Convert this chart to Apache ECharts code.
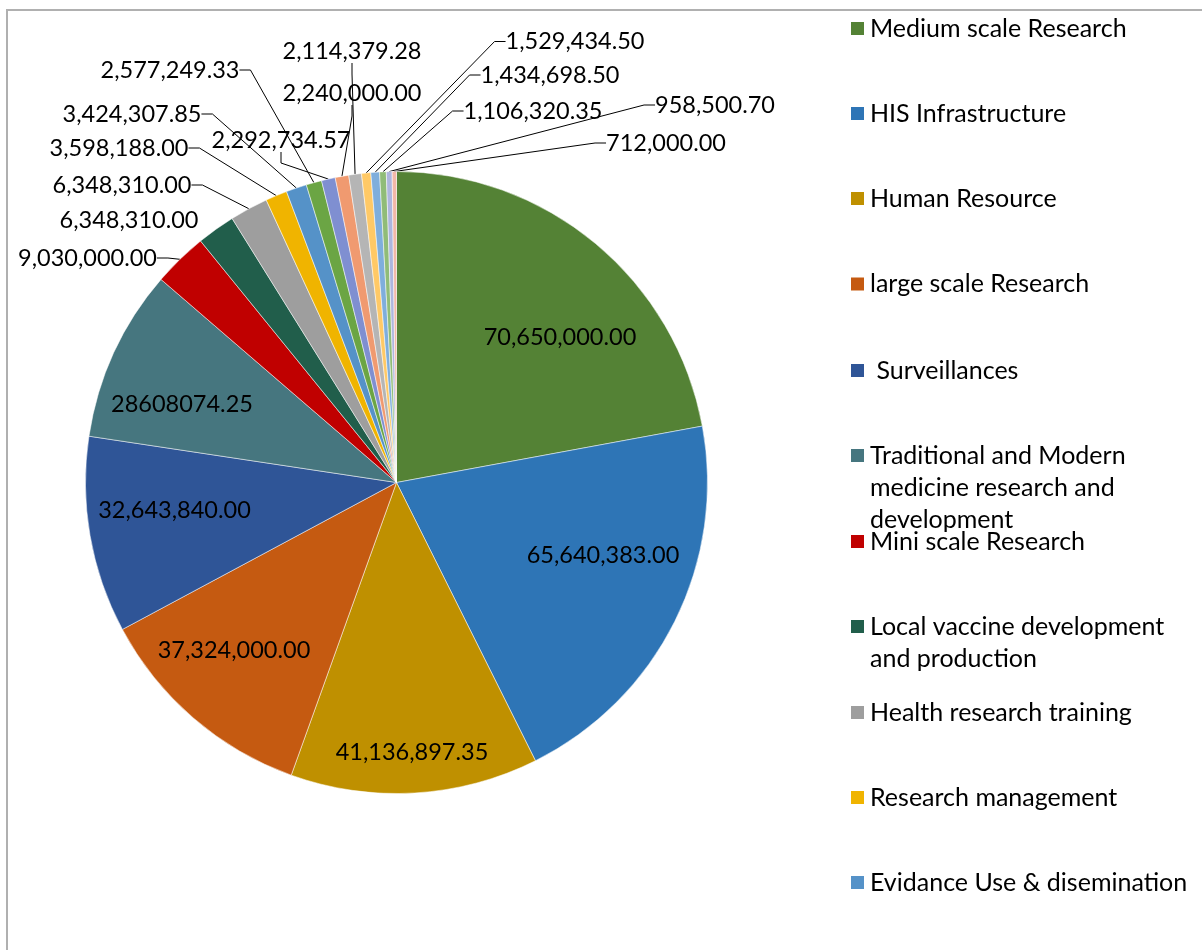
<!DOCTYPE html>
<html><head><meta charset="utf-8">
<script src="https://cdn.jsdelivr.net/npm/echarts@6/dist/echarts.min.js"></script>
<style>
html,body{margin:0;padding:0;background:#fff;overflow:hidden}
#frame{position:absolute;left:6px;top:9px;width:1400px;height:1200px;border-left:2px solid #B0B0B0;border-top:2px solid #B0B0B0;}
#chart{position:absolute;left:0;top:0;width:1202px;height:950px;}
</style></head><body>
<div id="frame"></div><div id="chart"></div>
<script>
// ---- data ----
const categories = [
  'Medium scale Research', 'HIS Infrastructure', 'Human Resource', 'large scale Research',
  ' Surveillances', 'Traditional and Modern medicine research and development',
  'Mini scale Research', 'Local vaccine development and production', 'Health research training',
  'Research management', 'Evidance Use & disemination',
  'Item 12', 'Item 13', 'Item 14', 'Item 15', 'Item 16', 'Item 17', 'Item 18', 'Item 19', 'Item 20'
];
const values = [
  70650000.00, 65640383.00, 41136897.35, 37324000.00, 32643840.00, 28608074.25,
  9030000.00, 6348310.00, 6348310.00, 3598188.00, 3424307.85,
  2577249.33, 2292734.57, 2240000.00, 2114379.28, 1529434.50, 1434698.50,
  1106320.35, 958500.70, 712000.00
];
// the label of item 6 is shown without thousands separators in the source
const groupedLabel = [true, true, true, true, true, false, true, true, true, true, true,
  true, true, true, true, true, true, true, true, true];
const legendNames = categories.slice(0, 11);
const legendWrapped = {
  'Traditional and Modern medicine research and development': ['Traditional and Modern', 'medicine research and', 'development'],
  'Local vaccine development and production': ['Local vaccine development', 'and production']
};
const colors = [
  '#548235', '#2E75B6', '#BF9000', '#C55A11', '#2F5597', '#46767F',
  '#C00000', '#215E4B', '#9E9E9E', '#F0B400', '#5592C8',
  '#6BA544', '#7F8FD1', '#F09A70', '#B5B5B5', '#FFC966', '#7FAEDC',
  '#90BC78', '#AEB6DE', '#F2B8A8'
];

// ---- layout (positions only) ----
const labelPos = [
  [560, 337], [603, 555], [412, 752], [234, 650], [174.5, 510], [182, 404],
  [87.5, 258], [129, 220], [122, 185], [119, 148], [132, 114],
  [170, 70], [281, 140], [352, 93], [352, 51], [575, 41.5], [550, 75],
  [533, 111], [715, 105], [666, 143]
];
const legendCenters = [28.5, 113.5, 198.5, 284, 370.5, 455.5, 541.5, 626.5, 712.5, 797.5, 882.5];
const FONT = 'Lato';
const LINE_H = 32;

function fmt(v, grouped) {
  return v.toLocaleString('en-US', {minimumFractionDigits: 2, maximumFractionDigits: 2, useGrouping: grouped});
}

const pieData = values.map((v, i) => {
  const inside = i < 6;
  return {
    name: categories[i],
    value: v,
    itemStyle: {color: colors[i]},
    label: {position: inside ? 'inside' : 'outside'},
    labelLine: {show: !inside && i !== 7}
  };
});

// multi-line legend entries: blank lines are prepended so the first line sits beside the marker
function legendText(name) {
  const lines = legendWrapped[name];
  if (!lines) return name;
  return new Array(lines.length - 1).fill('').concat(lines).join('\n');
}

const legends = legendNames.map((name, i) => {
  const lines = legendWrapped[name] ? legendWrapped[name].length : 1;
  const boxH = (2 * lines - 1) * LINE_H;
  return {
    orient: 'vertical',
    left: 849,
    top: legendCenters[i] - boxH / 2,
    padding: 0,
    itemWidth: 15,
    itemHeight: 15,
    icon: 'rect',
    selectedMode: false,
    data: [name],
    formatter: legendText,
    textStyle: {fontFamily: FONT, fontSize: 25, color: '#000', lineHeight: LINE_H}
  };
});

const chart = echarts.init(document.getElementById('chart'), null, {renderer: 'canvas'});
chart.setOption({
  animation: false,
  legend: legends,
  series: [{
    type: 'pie',
    center: [396.5, 482.5],
    radius: 311,
    startAngle: 90,
    clockwise: true,
    avoidLabelOverlap: false,
    itemStyle: {borderColor: '#fff', borderWidth: 0.5},
    emphasis: {disabled: true},
    label: {
      show: true,
      fontFamily: FONT, fontSize: 23.5, color: '#000',
      formatter: p => fmt(p.value, groupedLabel[p.dataIndex])
    },
    labelLine: {
      show: true, length: 10, length2: 11, smooth: false,
      lineStyle: {color: '#000', width: 1}
    },
    labelLayout: p => {
      const pos = labelPos[p.dataIndex];
      return {x: pos[0], y: pos[1], align: 'center', verticalAlign: 'middle'};
    },
    data: pieData
  }]
});
</script>
</body></html>
